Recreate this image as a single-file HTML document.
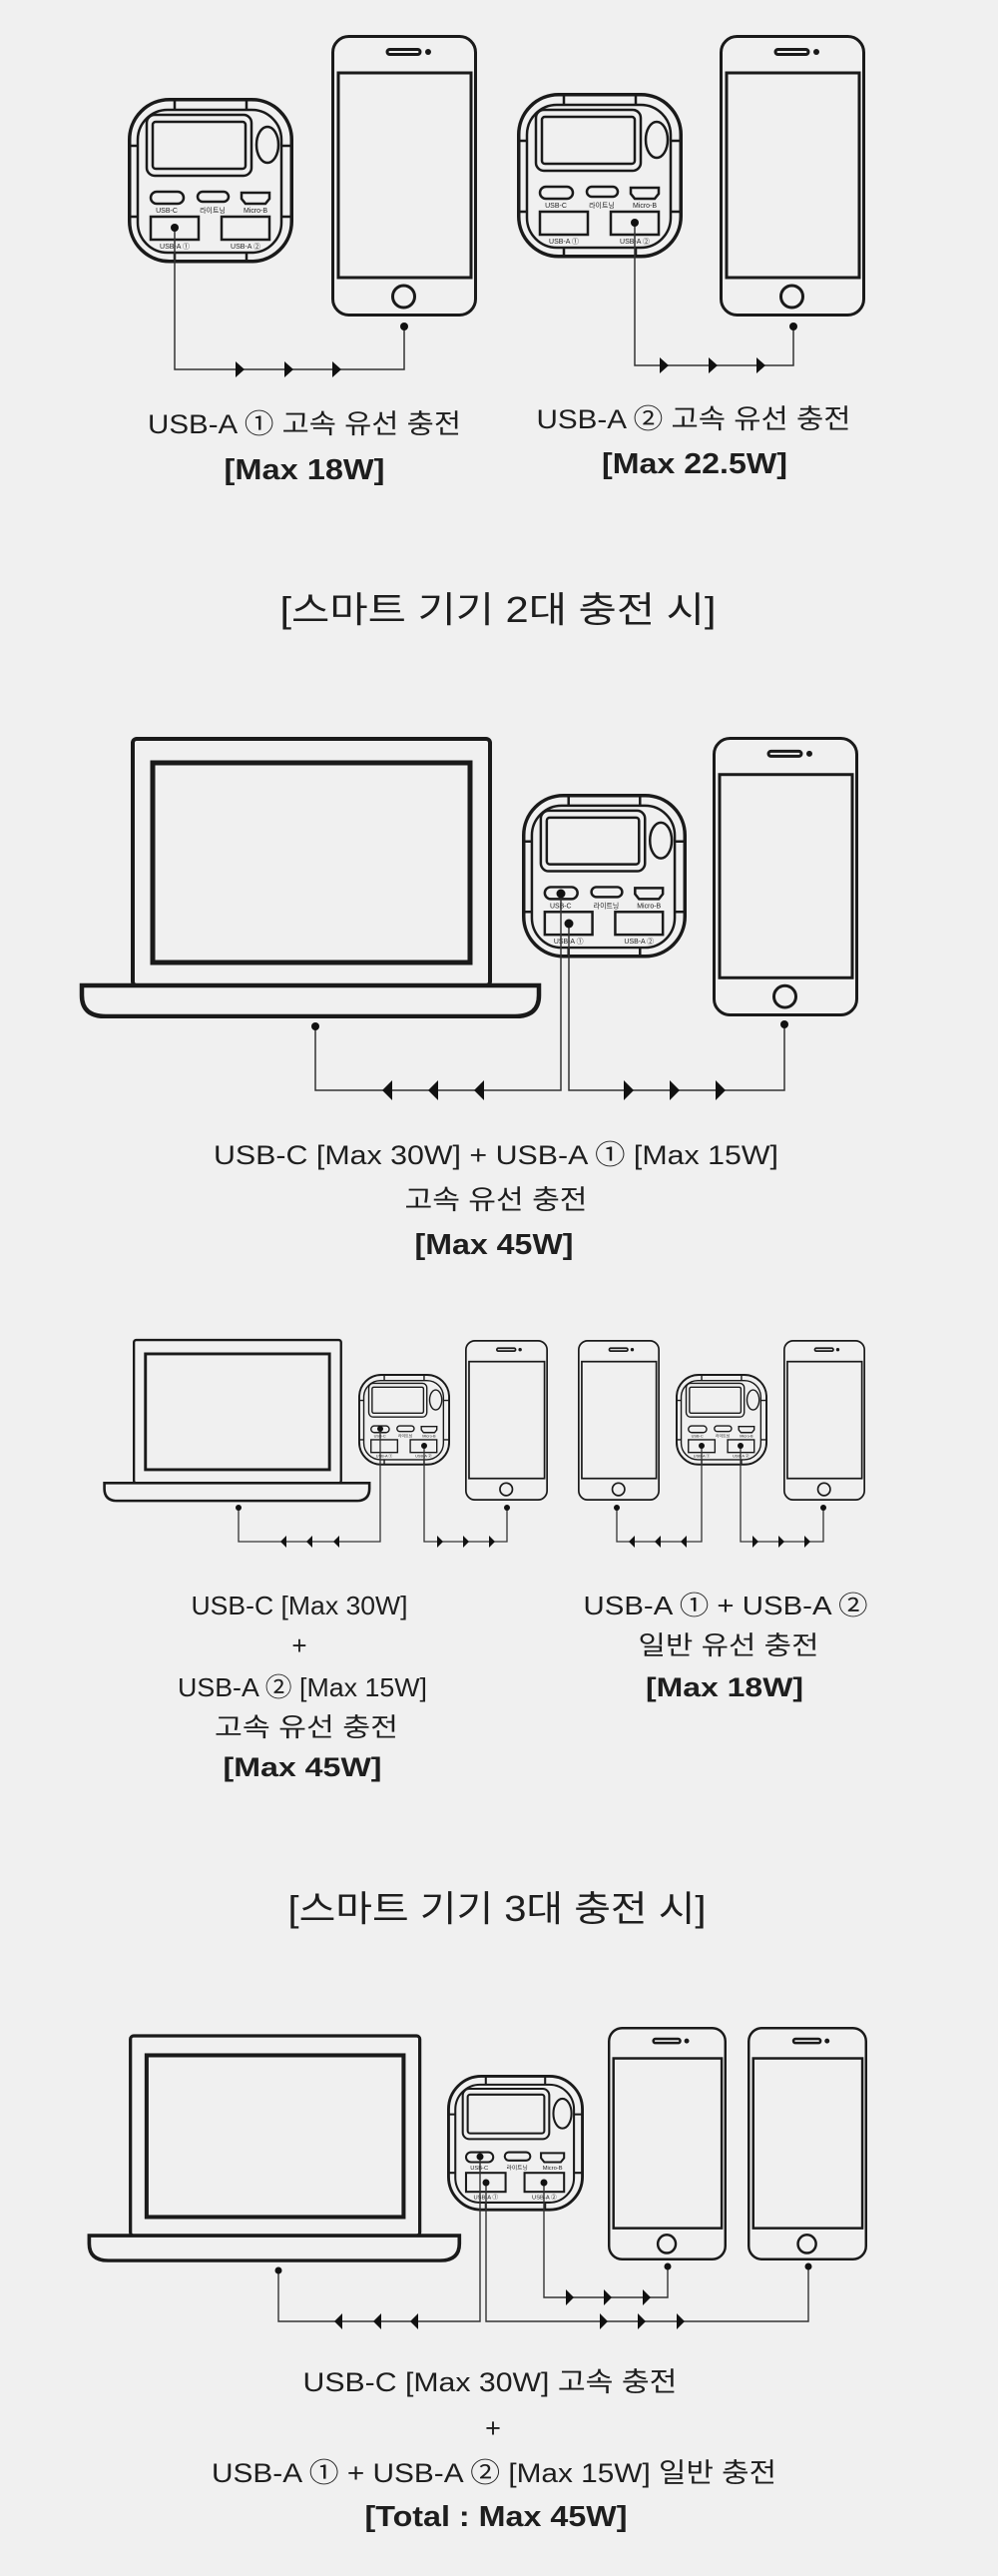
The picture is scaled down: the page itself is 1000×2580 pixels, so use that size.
<!DOCTYPE html>
<html><head><meta charset="utf-8"><style>
html,body{margin:0;padding:0;background:#f0f0f0;}
svg{display:block;}
text{font-family:"Liberation Sans","Noto Sans CJK KR",sans-serif;fill:#1e1e1e;}
.t{font-size:27px;font-weight:400;}
.b{font-size:29px;font-weight:700;}
.h{font-size:36px;font-weight:400;}
.s{font-size:26px;font-weight:400;}
.sb{font-size:27px;font-weight:700;}
.pl{font-size:7px;fill:#222;font-family:"Liberation Sans","Noto Sans CJK KR",sans-serif;}
</style></head><body>
<svg width="1000" height="2580" viewBox="0 0 1000 2580" xmlns="http://www.w3.org/2000/svg">
<defs>
<symbol id="chg" viewBox="0 0 166 166">
 <g fill="none" stroke="#1a1a1a">
  <rect x="1.75" y="1.75" width="162.5" height="162" rx="40" stroke-width="3.5"/>
  <rect x="10" y="12" width="144" height="143" rx="30" stroke-width="2.5"/>
  <path d="M47 1.5V12M119 1.5V12M47 155V164M119 155V164M1.5 48H10M1.5 119H10M154 48H164.5M154 119H164.5" stroke-width="2.5"/>
  <rect x="19" y="17" width="105" height="61" rx="8" stroke-width="2.5"/>
  <rect x="25" y="24" width="93" height="47" rx="3" stroke-width="2.5"/>
  <ellipse cx="140" cy="47" rx="11" ry="18" stroke-width="2.5"/>
  <rect x="23" y="94" width="33" height="12" rx="6" stroke-width="2.5"/>
  <rect x="70" y="94" width="31" height="10" rx="5" stroke-width="2.5"/>
  <path d="M114 95h28v6l-4 5h-20l-4-5z" stroke-width="2.5"/>
  <rect x="23" y="119" width="48" height="23" stroke-width="2.5"/>
  <rect x="94" y="119" width="48" height="23" stroke-width="2.5"/>
 </g>
 <text class="pl" x="39" y="115" text-anchor="middle">USB-C</text>
 <text class="pl" x="85" y="115" text-anchor="middle">라이트닝</text>
 <text class="pl" x="128" y="115" text-anchor="middle">Micro-B</text>
 <text class="pl" x="47" y="151" text-anchor="middle">USB-A ①</text>
 <text class="pl" x="118" y="151" text-anchor="middle">USB-A ②</text>
</symbol>
<symbol id="phone" viewBox="0 0 146 282" preserveAspectRatio="none">
 <g fill="none" stroke="#1a1a1a" stroke-width="3">
  <rect x="1.5" y="1.5" width="143" height="279" rx="16"/>
  <rect x="7" y="38" width="133" height="205"/>
  <rect x="56" y="14.5" width="33" height="5" rx="2.5"/>
  <circle cx="72.5" cy="262" r="11"/>
 </g>
 <circle cx="97" cy="17" r="3" fill="#1a1a1a"/>
</symbol>
<symbol id="lap" viewBox="-52 -3 466 283">
 <g fill="none" stroke="#1a1a1a">
  <rect x="2" y="0" width="358" height="247" rx="4" stroke-width="4"/>
  <rect x="22" y="24" width="318" height="200" stroke-width="5"/>
  <path d="M-49 247H409V257Q409 278 385 278H-25Q-49 278 -49 257Z" stroke-width="4.5" fill="#f0f0f0"/>
 </g>
</symbol>
</defs>

<use href="#chg" x="128" y="98" width="166" height="166"/>
<use href="#phone" x="332" y="35" width="146" height="282"/>
<use href="#chg" x="518" y="93" width="166" height="166"/>
<use href="#phone" x="721" y="35" width="146" height="282"/>
<g fill="none" stroke="#333" stroke-width="1.5">
 <path d="M175 228V370H405V327"/>
 <path d="M636 223V366H795V327"/>
</g>
<g fill="#111">
 <circle cx="175" cy="228" r="4"/><circle cx="405" cy="327" r="4"/>
 <circle cx="636" cy="223" r="4"/><circle cx="795" cy="327" r="4"/>
 <polygon points="236,362 245,370 236,378"/><polygon points="285,362 294,370 285,378"/><polygon points="333,362 342,370 333,378"/>
 <polygon points="661,358 670,366 661,374"/><polygon points="710,358 719,366 710,374"/><polygon points="758,358 767,366 758,374"/>
</g>
<text class="t" x="305" y="434" text-anchor="middle" textLength="314" lengthAdjust="spacingAndGlyphs">USB-A ① 고속 유선 충전</text>
<text class="b" x="305" y="480" text-anchor="middle" textLength="161" lengthAdjust="spacingAndGlyphs">[Max 18W]</text>
<text class="t" x="695" y="429" text-anchor="middle" textLength="315" lengthAdjust="spacingAndGlyphs">USB-A ② 고속 유선 충전</text>
<text class="b" x="696" y="474" text-anchor="middle" textLength="186" lengthAdjust="spacingAndGlyphs">[Max 22.5W]</text>

<text class="h" x="499" y="623" text-anchor="middle" textLength="437" lengthAdjust="spacingAndGlyphs">[스마트 기기 2대 충전 시]</text>

<use href="#lap" x="79" y="737" width="466" height="283"/>
<use href="#chg" x="523" y="795" width="165" height="165"/>
<use href="#phone" x="714" y="738" width="146" height="280"/>
<g fill="none" stroke="#333" stroke-width="1.5">
 <path d="M316 1028V1092H562V895"/>
 <path d="M570 925V1092H786V1026"/>
</g>
<g fill="#111">
 <circle cx="316" cy="1028" r="4"/><circle cx="786" cy="1026" r="4"/>
 <circle cx="562" cy="895" r="4.5"/><circle cx="570" cy="925" r="4.5"/>
 <polygon points="393,1082 383,1092 393,1102"/><polygon points="439,1082 429,1092 439,1102"/><polygon points="485,1082 475,1092 485,1102"/>
 <polygon points="625,1082 635,1092 625,1102"/><polygon points="671,1082 681,1092 671,1102"/><polygon points="717,1082 727,1092 717,1102"/>
</g>
<text class="t" x="497" y="1166" text-anchor="middle" textLength="566" lengthAdjust="spacingAndGlyphs">USB-C [Max 30W] + USB-A ① [Max 15W]</text>
<text class="t" x="497" y="1211" text-anchor="middle" textLength="183" lengthAdjust="spacingAndGlyphs">고속 유선 충전</text>
<text class="b" x="495" y="1256" text-anchor="middle" textLength="159" lengthAdjust="spacingAndGlyphs">[Max 45W]</text>

<use href="#lap" x="102.8" y="1340.3" width="270.3" height="164.1"/>
<use href="#chg" x="359" y="1376" width="92" height="92"/>
<use href="#phone" x="466" y="1342" width="83" height="161"/>
<use href="#phone" x="579" y="1342" width="82" height="161"/>
<use href="#chg" x="677" y="1376" width="92" height="92"/>
<use href="#phone" x="785" y="1342" width="82" height="161"/>
<g fill="none" stroke="#333" stroke-width="1.3">
 <path d="M239 1510V1544H381V1431"/>
 <path d="M425 1448V1544H508V1510"/>
 <path d="M618 1510V1544H703V1448"/>
 <path d="M742 1448V1544H825V1510"/>
</g>
<g fill="#111">
 <circle cx="239" cy="1510" r="3"/><circle cx="508" cy="1510" r="3"/><circle cx="618" cy="1510" r="3"/><circle cx="825" cy="1510" r="3"/>
 <circle cx="381" cy="1431" r="3"/><circle cx="425" cy="1448" r="3"/><circle cx="703" cy="1448" r="3"/><circle cx="742" cy="1448" r="3"/>
 <polygon points="287,1538 281,1544 287,1550"/><polygon points="313,1538 307,1544 313,1550"/><polygon points="340,1538 334,1544 340,1550"/>
 <polygon points="438,1538 444,1544 438,1550"/><polygon points="464,1538 470,1544 464,1550"/><polygon points="490,1538 496,1544 490,1550"/>
 <polygon points="636,1538 630,1544 636,1550"/><polygon points="662,1538 656,1544 662,1550"/><polygon points="688,1538 682,1544 688,1550"/>
 <polygon points="754,1538 760,1544 754,1550"/><polygon points="780,1538 786,1544 780,1550"/><polygon points="806,1538 812,1544 806,1550"/>
</g>
<text class="s" x="300" y="1617" text-anchor="middle" textLength="217" lengthAdjust="spacingAndGlyphs">USB-C [Max 30W]</text>
<text class="s" x="300" y="1657" text-anchor="middle">+</text>
<text class="s" x="303" y="1699" text-anchor="middle" textLength="250" lengthAdjust="spacingAndGlyphs">USB-A ② [Max 15W]</text>
<text class="s" x="307" y="1739" text-anchor="middle" textLength="184" lengthAdjust="spacingAndGlyphs">고속 유선 충전</text>
<text class="sb" x="303" y="1779" text-anchor="middle" textLength="159" lengthAdjust="spacingAndGlyphs">[Max 45W]</text>
<text class="s" x="727" y="1617" text-anchor="middle" textLength="285" lengthAdjust="spacingAndGlyphs">USB-A ① + USB-A ②</text>
<text class="s" x="730" y="1657" text-anchor="middle" textLength="181" lengthAdjust="spacingAndGlyphs">일반 유선 충전</text>
<text class="sb" x="726" y="1699" text-anchor="middle" textLength="158" lengthAdjust="spacingAndGlyphs">[Max 18W]</text>

<text class="h" x="498" y="1924" text-anchor="middle" textLength="419" lengthAdjust="spacingAndGlyphs">[스마트 기기 3대 충전 시]</text>

<use href="#lap" x="86.9" y="2036.6" width="377.5" height="229.2"/>
<use href="#chg" x="448" y="2078" width="137" height="137"/>
<use href="#phone" x="609" y="2030" width="119" height="234"/>
<use href="#phone" x="749" y="2030" width="120" height="234"/>
<g fill="none" stroke="#333" stroke-width="1.4">
 <path d="M279 2274V2325H481V2160"/>
 <path d="M487 2186V2325H810V2270"/>
 <path d="M545 2186V2301H669V2270"/>
</g>
<g fill="#111">
 <circle cx="279" cy="2274" r="3.5"/><circle cx="810" cy="2270" r="3.5"/><circle cx="669" cy="2270" r="3.5"/>
 <circle cx="481" cy="2160" r="3.5"/><circle cx="487" cy="2186" r="3.5"/><circle cx="545" cy="2186" r="3.5"/>
 <polygon points="343,2317 335,2325 343,2333"/><polygon points="382,2317 374,2325 382,2333"/><polygon points="419,2317 411,2325 419,2333"/>
 <polygon points="601,2317 609,2325 601,2333"/><polygon points="639,2317 647,2325 639,2333"/><polygon points="678,2317 686,2325 678,2333"/>
 <polygon points="567,2293 575,2301 567,2309"/><polygon points="605,2293 613,2301 605,2309"/><polygon points="644,2293 652,2301 644,2309"/>
</g>
<text class="t" x="491" y="2395" text-anchor="middle" textLength="375" lengthAdjust="spacingAndGlyphs">USB-C [Max 30W] 고속 충전</text>
<text class="t" x="494" y="2441" text-anchor="middle">+</text>
<text class="t" x="495" y="2486" text-anchor="middle" textLength="566" lengthAdjust="spacingAndGlyphs">USB-A ① + USB-A ② [Max 15W] 일반 충전</text>
<text class="b" x="497" y="2530" text-anchor="middle" textLength="263" lengthAdjust="spacingAndGlyphs">[Total : Max 45W]</text>
</svg>
</body></html>
